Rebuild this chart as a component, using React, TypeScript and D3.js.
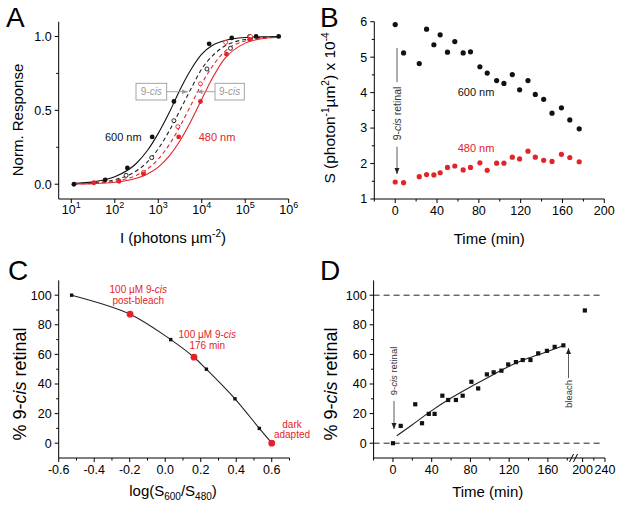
import React from "react";
import * as d3 from "d3";

const RED = "#e3232a";
const GREY = "#9a9a9a";
const FONT = "'Liberation Sans', Arial, Helvetica, sans-serif";

// ---------- Panel A (x values are log10 of intensity) ----------
const A_X_EXP = [1, 2, 3, 4, 5, 6];
const A_Y_TICKS = [0, 0.5, 1.0];
const A_Y_MINOR = [0.25, 0.75];
const A_600_LOG = [1.06, 1.78, 2.29, 2.86, 3.36, 4.17, 4.69, 5.25, 5.77];
const A_600_RESP = [0.0, 0.03, 0.11, 0.32, 0.56, 0.95, 0.99, 1.0, 1.0];
const A_480_LOG = [1.52, 2.1, 2.66, 3.47, 3.97, 4.57, 5.1];
const A_480_RESP = [0.01, 0.02, 0.07, 0.32, 0.56, 0.88, 0.98];
const A_600CIS_LOG = [2.26, 2.85, 3.36, 4.12, 4.66, 5.1];
const A_600CIS_RESP = [0.06, 0.18, 0.43, 0.78, 0.92, 1.0];
const A_480CIS_LOG = [2.66, 3.45, 3.97, 4.55, 5.12];
const A_480CIS_RESP = [0.08, 0.39, 0.68, 0.96, 1.0];
const A_FIT_LOG = [1.06, 1.5, 2.0, 2.5, 2.75, 3.0, 3.25, 3.5, 3.75, 4.0, 4.25, 4.5, 5.0, 5.5, 5.8];
const A_FIT_600 = [0.006, 0.016, 0.05, 0.142, 0.228, 0.344, 0.483, 0.64, 0.775, 0.88, 0.94, 0.97, 0.993, 0.998, 1.0];
const A_FIT_600CIS = [0.004, 0.01, 0.031, 0.091, 0.151, 0.24, 0.36, 0.5, 0.645, 0.78, 0.87, 0.93, 0.98, 0.995, 0.998];
const A_FIT_480CIS = [0.002, 0.006, 0.02, 0.061, 0.103, 0.17, 0.266, 0.392, 0.535, 0.68, 0.8, 0.89, 0.97, 0.99, 0.995];
const A_FIT_480 = [0.002, 0.004, 0.013, 0.04, 0.069, 0.116, 0.19, 0.294, 0.426, 0.575, 0.72, 0.84, 0.955, 0.99, 0.995];

// ---------- Panel B ----------
const B_TIME = [0, 8, 23, 30, 37, 43, 50, 57, 65, 72, 81, 88, 97, 104, 112, 119, 127, 134, 142, 150, 159, 167, 176];
const B_600 = [5.92, 5.12, 4.82, 5.79, 5.35, 5.63, 5.14, 5.44, 5.12, 5.15, 4.73, 4.55, 4.34, 4.26, 4.51, 4.08, 4.34, 3.95, 3.81, 3.42, 3.57, 3.23, 2.98];
const B_480 = [1.48, 1.46, 1.63, 1.69, 1.68, 1.74, 1.89, 1.93, 1.82, 1.89, 2.02, 1.81, 2.01, 2.01, 2.18, 2.13, 2.35, 2.18, 2.09, 2.06, 2.26, 2.17, 2.05];
const B_X_TICKS = [0, 40, 80, 120, 160, 200];
const B_X_MINOR = [-20, 20, 60, 100, 140, 180];
const B_Y_TICKS = [1, 2, 3, 4, 5, 6];
const B_Y_MINOR = [1.5, 2.5, 3.5, 4.5, 5.5];

// ---------- Panel C ----------
const C_SQ_X = [-0.527, 0.031, 0.232, 0.393, 0.53];
const C_SQ_Y = [100, 70, 50, 30, 10];
const C_RED_X = [-0.198, 0.162, 0.6];
const C_RED_Y = [87.2, 58.1, 0];
const C_CURVE_X = [-0.527, -0.198, 0.031, 0.162, 0.232, 0.393, 0.53, 0.6];
const C_CURVE_Y = [100, 87.2, 70, 58.1, 50, 30, 10, 0];
const C_X_TICKS = [-0.6, -0.4, -0.2, 0.0, 0.2, 0.4, 0.6];
const C_X_MINOR = [-0.5, -0.3, -0.1, 0.1, 0.3, 0.5, 0.7];
const C_Y_TICKS = [0, 20, 40, 60, 80, 100];
const C_Y_MINOR = [10, 30, 50, 70, 90];

// ---------- Panel D ----------
const D_TIME = [0, 8, 23, 30, 37, 43, 51, 57, 65, 72, 81, 88, 97, 104, 112, 119, 127, 134, 142, 150, 159, 167, 176];
const D_PCT = [0, 11.7, 26.3, 13.5, 19.8, 19.8, 32.1, 29.2, 29.2, 32.1, 41.5, 37, 46.5, 47.9, 49, 53.2, 54.8, 56.2, 56.2, 60.7, 62.4, 65.1, 66.1];
const D_POST_TIME = [204];
const D_POST_PCT = [89.7];
const D_FIT_T = [4, 20, 40, 60, 80, 100, 120, 140, 160, 176];
const D_FIT_Y = [5, 12.5, 22, 30.5, 38, 45, 52, 57.5, 62, 66];
const D_X_TICKS = [0, 40, 80, 120, 160, 200, 240];
const D_X_MINOR = [-20, 20, 60, 100, 140, 180, 220];
const D_Y_TICKS = [0, 20, 40, 60, 80, 100];
const D_Y_MINOR = [10, 30, 50, 70, 90];

// ---------- scales ----------
const xA = d3.scaleLog().domain([Math.pow(10, 0.71), 1e6]).range([58.7, 288.7]);
const yA = d3.scaleLinear().domain([-0.1, 1.1]).range([199, 21.7]);
const xB = d3.scaleLinear().domain([-20, 200]).range([374.3, 604.3]);
const yB = d3.scaleLinear().domain([1, 6]).range([199, 21.7]);
const xC = d3.scaleLinear().domain([-0.6, 0.7]).range([58.7, 289.5]);
const yC = d3.scaleLinear().domain([-10, 110]).range([458, 280.4]);
const xD = d3.scaleLinear().domain([-20, 185, 190, 240]).range([373.6, 572.1, 577, 605]);
const yD = d3.scaleLinear().domain([-10, 110]).range([458, 280.4]);

const MAJ = 4;
const MIN = 2.5;
const TICKFS = 12.5;

function YAxis({ x, y, ticks, minor, fmt }: any) {
  const [r0, r1] = y.range();
  return (
    <g>
      <line x1={x} x2={x} y1={r0} y2={r1} stroke="#000" />
      {ticks.map((t: number) => (
        <g key={"t" + t}>
          <line x1={x - MAJ} x2={x} y1={y(t)} y2={y(t)} stroke="#000" />
          <text x={x - MAJ - 3} y={y(t)} dy="0.35em" textAnchor="end" fontSize={TICKFS}>
            {fmt(t)}
          </text>
        </g>
      ))}
      {minor.map((t: number) => (
        <line key={"m" + t} x1={x - MIN} x2={x} y1={y(t)} y2={y(t)} stroke="#000" />
      ))}
    </g>
  );
}

function XAxis({ y, x, ticks, minor, fmt, x0, x1 }: any) {
  const r = x.range();
  const a = x0 ?? r[0];
  const b = x1 ?? r[r.length - 1];
  return (
    <g>
      <line x1={a} x2={b} y1={y} y2={y} stroke="#000" />
      {ticks.map((t: number) => (
        <g key={"t" + t}>
          <line x1={x(t)} x2={x(t)} y1={y} y2={y + MAJ} stroke="#000" />
          {fmt ? (
            <text x={x(t)} y={y + 16} textAnchor="middle" fontSize={TICKFS}>
              {fmt(t)}
            </text>
          ) : null}
        </g>
      ))}
      {minor.map((t: number) => (
        <line key={"m" + t} x1={x(t)} x2={x(t)} y1={y} y2={y + MIN} stroke="#000" />
      ))}
    </g>
  );
}

function zipA(logs: number[], vals: number[]) {
  return logs.map((l, i) => [Math.pow(10, l), vals[i]] as [number, number]);
}

export default function App() {
  const lineA = d3
    .line<[number, number]>()
    .x((d) => xA(d[0]))
    .y((d) => yA(d[1]))
    .curve(d3.curveMonotoneX);
  const lineC = d3
    .line<[number, number]>()
    .x((d) => xC(d[0]))
    .y((d) => yC(d[1]))
    .curve(d3.curveCatmullRom.alpha(0.5));
  const lineD = d3
    .line<[number, number]>()
    .x((d) => xD(d[0]))
    .y((d) => yD(d[1]))
    .curve(d3.curveMonotoneX);

  const fmt1 = (v: number) => v.toFixed(1);
  const fmt0 = (v: number) => String(v);

  const dX0 = xD(-20);
  const dXend = 600;

  return (
    <svg
      width={622}
      height={510}
      style={{ position: "absolute", left: 0, top: 0, background: "#fff" }}
      fontFamily={FONT}
    >
      <defs>
        <marker id="ahBlack" markerUnits="userSpaceOnUse" markerWidth="7" markerHeight="7" refX="6" refY="3.5" orient="auto">
          <path d="M0,1 L6,3.5 L0,6 z" fill="#222" />
        </marker>
        <marker id="ahGrey" markerUnits="userSpaceOnUse" markerWidth="7" markerHeight="7" refX="6" refY="3.5" orient="auto">
          <path d="M0,1.2 L6,3.5 L0,5.8 z" fill={GREY} />
        </marker>
      </defs>
      <rect x={0} y={0} width={622} height={510} fill="#fff" />

      {/* ================= Panel A ================= */}
      <text x={6} y={27} fontSize={28}>A</text>
      <YAxis x={58.7} y={yA} ticks={A_Y_TICKS} minor={A_Y_MINOR} fmt={fmt1} />
      <line x1={58.7} x2={288.7} y1={199} y2={199} stroke="#000" />
      {A_X_EXP.map((k) => (
        <g key={"ax" + k}>
          <line x1={xA(Math.pow(10, k))} x2={xA(Math.pow(10, k))} y1={199} y2={199 + MAJ} stroke="#000" />
          <text x={xA(Math.pow(10, k))} y={214} textAnchor="middle" fontSize={TICKFS}>
            10<tspan dy={-6} fontSize={9}>{k}</tspan>
          </text>
        </g>
      ))}
      <text transform="translate(22.5,120) rotate(-90)" textAnchor="middle" fontSize={15}>
        Norm. Response
      </text>
      <text x={173} y={243} textAnchor="middle" fontSize={15}>
        I (photons µm<tspan dy={-6} fontSize={10}>-2</tspan>
        <tspan dy={6}>)</tspan>
      </text>

      <path d={lineA(zipA(A_FIT_LOG, A_FIT_600)) || ""} fill="none" stroke="#111" strokeWidth={1.1} />
      <path d={lineA(zipA(A_FIT_LOG, A_FIT_600CIS)) || ""} fill="none" stroke="#222" strokeWidth={1.1} strokeDasharray="4,3" />
      <path d={lineA(zipA(A_FIT_LOG, A_FIT_480CIS)) || ""} fill="none" stroke={RED} strokeWidth={1.1} strokeDasharray="4,3" />
      <path d={lineA(zipA(A_FIT_LOG, A_FIT_480)) || ""} fill="none" stroke={RED} strokeWidth={1.1} />

      {zipA(A_600CIS_LOG, A_600CIS_RESP).map((d, i) => (
        <circle key={"aoc" + i} cx={xA(d[0])} cy={yA(d[1])} r={2} fill="#fff" stroke="#111" strokeWidth={0.9} />
      ))}
      {zipA(A_480CIS_LOG, A_480CIS_RESP).map((d, i) => (
        <circle key={"aor" + i} cx={xA(d[0])} cy={yA(d[1])} r={2} fill="#fff" stroke={RED} strokeWidth={0.9} />
      ))}
      {zipA(A_600_LOG, A_600_RESP).map((d, i) => (
        <circle key={"afb" + i} cx={xA(d[0])} cy={yA(d[1])} r={2.4} fill="#111" />
      ))}
      {zipA(A_480_LOG, A_480_RESP).map((d, i) => (
        <circle key={"afr" + i} cx={xA(d[0])} cy={yA(d[1])} r={2.4} fill={RED} />
      ))}

      <text x={123.3} y={136.7} dy="0.35em" textAnchor="middle" fontSize={11} fill="#111">600 nm</text>
      <text x={217} y={136.7} dy="0.35em" textAnchor="middle" fontSize={11} fill={RED}>480 nm</text>

      <rect x={136} y={83.3} width={30.7} height={16.7} fill="#fff" stroke={GREY} strokeWidth={0.9} />
      <text x={151.3} y={91.7} dy="0.35em" textAnchor="middle" fontSize={10} fill={GREY}>
        9-<tspan fontStyle="italic">cis</tspan>
      </text>
      <rect x={215} y={83.3} width={29.3} height={16.7} fill="#fff" stroke={GREY} strokeWidth={0.9} />
      <text x={229.6} y={91.7} dy="0.35em" textAnchor="middle" fontSize={10} fill={GREY}>
        9-<tspan fontStyle="italic">cis</tspan>
      </text>
      <line x1={166.7} x2={188} y1={91.7} y2={91.7} stroke={GREY} strokeWidth={0.9} markerEnd="url(#ahGrey)" />
      <line x1={215} x2={196.5} y1={91.7} y2={91.7} stroke={GREY} strokeWidth={0.9} markerEnd="url(#ahGrey)" />

      {/* ================= Panel B ================= */}
      <text x={320} y={27} fontSize={28}>B</text>
      <YAxis x={374.3} y={yB} ticks={B_Y_TICKS} minor={B_Y_MINOR} fmt={fmt0} />
      <XAxis y={199} x={xB} ticks={B_X_TICKS} minor={B_X_MINOR} fmt={fmt0} />
      <text transform="translate(335,108) rotate(-90)" textAnchor="middle" fontSize={15.5}>
        S (photon<tspan dy={-6} fontSize={10}>-1</tspan>
        <tspan dy={6}>µm</tspan>
        <tspan dy={-6} fontSize={10}>2</tspan>
        <tspan dy={6}>) x 10</tspan>
        <tspan dy={-6} fontSize={10}>-4</tspan>
      </text>
      <text x={489.3} y={244} textAnchor="middle" fontSize={15}>Time (min)</text>

      {B_TIME.map((t, i) => (
        <circle key={"b6" + i} cx={xB(t)} cy={yB(B_600[i])} r={2.6} fill="#111" />
      ))}
      {B_TIME.map((t, i) => (
        <circle key={"b4" + i} cx={xB(t)} cy={yB(B_480[i])} r={2.6} fill={RED} />
      ))}
      <text x={476} y={91.7} dy="0.35em" textAnchor="middle" fontSize={11} fill="#111">600 nm</text>
      <text x={476} y={147.7} dy="0.35em" textAnchor="middle" fontSize={11} fill={RED}>480 nm</text>

      <line x1={397} x2={397} y1={48} y2={82} stroke="#333" strokeWidth={0.8} />
      <text transform="translate(397,113.5) rotate(-90)" dy="0.35em" textAnchor="middle" fontSize={10.5} fill="#333">
        9-<tspan fontStyle="italic">cis</tspan> retinal
      </text>
      <line x1={397} x2={397} y1={146.7} y2={174} stroke="#333" strokeWidth={0.8} markerEnd="url(#ahBlack)" />

      {/* ================= Panel C ================= */}
      <text x={8} y={280} fontSize={28}>C</text>
      <YAxis x={58.7} y={yC} ticks={C_Y_TICKS} minor={C_Y_MINOR} fmt={fmt0} />
      <XAxis y={458} x={xC} ticks={C_X_TICKS} minor={C_X_MINOR} fmt={fmt1} />
      <text transform="translate(26,384) rotate(-90)" textAnchor="middle" fontSize={18}>
        % 9-<tspan fontStyle="italic">cis</tspan> retinal
      </text>
      <text x={173} y={496} textAnchor="middle" fontSize={15}>
        log(S<tspan dy={4} fontSize={10}>600</tspan>
        <tspan dy={-4}>/S</tspan>
        <tspan dy={4} fontSize={10}>480</tspan>
        <tspan dy={-4}>)</tspan>
      </text>
      <path
        d={lineC(C_CURVE_X.map((x, i) => [x, C_CURVE_Y[i]] as [number, number])) || ""}
        fill="none"
        stroke="#222"
        strokeWidth={1.1}
      />
      {C_SQ_X.map((x, i) => (
        <rect key={"cs" + i} x={xC(x) - 1.7} y={yC(C_SQ_Y[i]) - 1.7} width={3.4} height={3.4} fill="#111" />
      ))}
      {C_RED_X.map((x, i) => (
        <circle key={"cr" + i} cx={xC(x)} cy={yC(C_RED_Y[i])} r={3.4} fill={RED} />
      ))}
      <g fontSize={10} fill={RED} textAnchor="middle">
        <text x={138.3} y={289} dy="0.35em">
          100 µM 9-<tspan fontStyle="italic">cis</tspan>
        </text>
        <text x={138.3} y={300.5} dy="0.35em">post-bleach</text>
        <text x={207.3} y={334.5} dy="0.35em">
          100 µM 9-<tspan fontStyle="italic">cis</tspan>
        </text>
        <text x={207.3} y={345.5} dy="0.35em">176 min</text>
        <text x={292} y={424} dy="0.35em">dark</text>
        <text x={292} y={434.5} dy="0.35em">adapted</text>
      </g>

      {/* ================= Panel D ================= */}
      <text x={320} y={280} fontSize={28}>D</text>
      <YAxis x={373.6} y={yD} ticks={D_Y_TICKS} minor={D_Y_MINOR} fmt={fmt0} />
      <XAxis y={458} x={xD} ticks={D_X_TICKS} minor={D_X_MINOR} fmt={fmt0} />
      <line x1={569.5} x2={573.5} y1={462} y2={454} stroke="#000" />
      <line x1={573.5} x2={577.5} y1={462} y2={454} stroke="#000" />
      <text transform="translate(337,384) rotate(-90)" textAnchor="middle" fontSize={18}>
        % 9-<tspan fontStyle="italic">cis</tspan> retinal
      </text>
      <text x={487.7} y={497} textAnchor="middle" fontSize={15}>Time (min)</text>

      <line x1={dX0} x2={dXend} y1={yD(100)} y2={yD(100)} stroke="#222" strokeDasharray="6,4" />
      <line x1={dX0} x2={dXend} y1={yD(0)} y2={yD(0)} stroke="#222" strokeDasharray="6,4" />

      <path
        d={lineD(D_FIT_T.map((t, i) => [t, D_FIT_Y[i]] as [number, number])) || ""}
        fill="none"
        stroke="#222"
        strokeWidth={1.1}
      />
      {D_TIME.map((t, i) => (
        <rect key={"ds" + i} x={xD(t) - 2.1} y={yD(D_PCT[i]) - 2.1} width={4.2} height={4.2} fill="#111" />
      ))}
      {D_POST_TIME.map((t, i) => (
        <rect key={"dp" + i} x={xD(t) - 2.1} y={yD(D_POST_PCT[i]) - 2.1} width={4.2} height={4.2} fill="#111" />
      ))}

      <text transform="translate(394,371) rotate(-90)" dy="0.35em" textAnchor="middle" fontSize={9.5} fill="#333">
        9-<tspan fontStyle="italic">cis</tspan> retinal
      </text>
      <line x1={394} x2={394} y1={401} y2={429} stroke="#333" strokeWidth={0.8} markerEnd="url(#ahBlack)" />

      <text transform="translate(568.5,394) rotate(-90)" dy="0.35em" textAnchor="middle" fontSize={9.5} fill="#333">
        bleach
      </text>
      <line x1={568.5} x2={568.5} y1={378} y2={348} stroke="#333" strokeWidth={0.8} markerEnd="url(#ahBlack)" />
    </svg>
  );
}
